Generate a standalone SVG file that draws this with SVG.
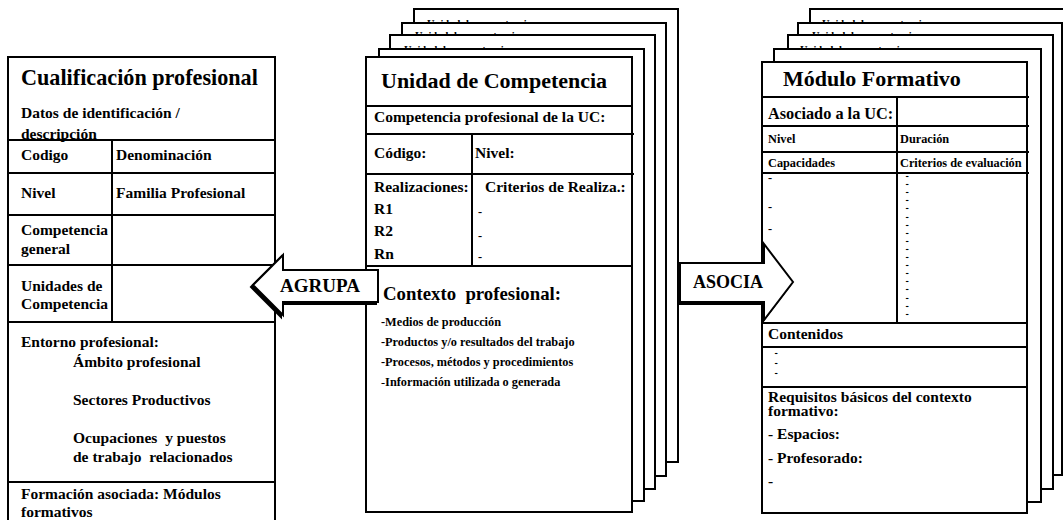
<svg xmlns="http://www.w3.org/2000/svg" width="1063" height="520" viewBox="0 0 1063 520" font-family="'Liberation Serif', 'Times New Roman', serif">
<style>
text{font-family:"Liberation Serif","Times New Roman",serif;font-weight:bold;fill:#000}
.page{fill:#fff;stroke:#000;stroke-width:2}
.ln{stroke:#000;stroke-width:2;fill:none}
.t22{font-size:22px}
.t155{font-size:15.5px}
.t12{font-size:12.3px}
.dash{font-size:7px;stroke:#000;stroke-width:0.6}
.frag{font-size:10.5px}
.arrow{fill:#fff;stroke:#000;stroke-width:2;stroke-linejoin:miter}
.shadow{fill:#000;stroke:#000;stroke-width:2}
</style>

<g id="cualificacion">
  <rect class="page" x="8" y="57" width="267" height="475"/>
  <text x="21" y="85" style="font-size:22.2px">Cualificación profesional</text>
  <text class="t155" x="21" y="118">Datos de identificación /</text>
  <text class="t155" x="21" y="139">descripción</text>
  <line class="ln" x1="8" y1="140" x2="275" y2="140"/>
  <line class="ln" x1="8" y1="173" x2="275" y2="173"/>
  <line class="ln" x1="8" y1="215" x2="275" y2="215"/>
  <line class="ln" x1="8" y1="265" x2="275" y2="265"/>
  <line class="ln" x1="8" y1="322" x2="275" y2="322"/>
  <line class="ln" x1="8" y1="482" x2="275" y2="482"/>
  <line class="ln" x1="112" y1="140" x2="112" y2="322"/>
  <text class="t155" x="21" y="160">Codigo</text>
  <text class="t155" x="116" y="160">Denominación</text>
  <text class="t155" x="21" y="198">Nivel</text>
  <text class="t155" x="116" y="198">Familia Profesional</text>
  <text class="t155" x="21" y="235">Competencia</text>
  <text class="t155" x="21" y="254">general</text>
  <text class="t155" x="21" y="291">Unidades de</text>
  <text class="t155" x="21" y="309">Competencia</text>
  <text class="t155" x="21" y="347">Entorno profesional:</text>
  <text class="t155" x="73" y="367">Ámbito profesional</text>
  <text class="t155" x="73" y="405">Sectores Productivos</text>
  <text class="t155" x="73" y="443" xml:space="preserve">Ocupaciones  y puestos</text>
  <text class="t155" x="73" y="462" xml:space="preserve">de trabajo  relacionados</text>
  <text class="t155" x="21" y="499">Formación asociada: Módulos</text>
  <text class="t155" x="21" y="517">formativos</text>
</g>

<g id="unidad-competencia">
  <rect class="page" x="414" y="9" width="264" height="453"/>
  <text class="frag" x="427" y="27">Unidad de competencia</text>
  <rect class="page" x="402" y="23" width="264" height="453"/>
  <text class="frag" x="415" y="39">Unidad de competencia</text>
  <rect class="page" x="390" y="35" width="265" height="454"/>
  <text class="frag" x="404" y="53">Unidad de competencia</text>
  <rect class="page" x="379" y="49" width="265" height="452"/>
  <rect class="page" x="366" y="57" width="266" height="455"/>
  <text class="t22" x="381" y="88">Unidad de Competencia</text>
  <line class="ln" x1="366" y1="106" x2="633" y2="106"/>
  <text class="t155" x="374" y="122">Competencia profesional de la UC:</text>
  <line class="ln" x1="366" y1="134" x2="634" y2="134"/>
  <line class="ln" x1="472" y1="134" x2="472" y2="266"/>
  <text class="t155" x="374" y="158">Código:</text>
  <text class="t155" x="475" y="158">Nivel:</text>
  <line class="ln" x1="366" y1="174" x2="634" y2="174"/>
  <text class="t155" x="374" y="192">Realizaciones:</text>
  <text class="t155" x="485" y="192">Criterios de Realiza.:</text>
  <text class="t155" x="374" y="214">R1</text>
  <text class="t155" x="374" y="236">R2</text>
  <text class="t155" x="374" y="259">Rn</text>
  <text class="t12"><tspan x="478" y="216">-</tspan><tspan x="478" y="240">-</tspan><tspan x="478" y="261">-</tspan></text>
  <line class="ln" x1="366" y1="266" x2="632" y2="266"/>
  <text x="383" y="300" style="font-size:18.8px" xml:space="preserve">Contexto  profesional:</text>
  <text class="t12" x="381" y="326">-Medios de producción</text>
  <text class="t12" x="381" y="346">-Productos y/o resultados del trabajo</text>
  <text class="t12" x="381" y="366">-Procesos, métodos y procedimientos</text>
  <text class="t12" x="381" y="386"><tspan font-weight="normal">-</tspan>Información utilizada o generada</text>
</g>

<g id="modulo-formativo">
  <rect class="page" x="810" y="9" width="270" height="453"/>
  <text class="frag" x="822" y="27">Unidad de competencia</text>
  <rect class="page" x="798" y="23" width="264" height="452"/>
  <text class="frag" x="812" y="39">Unidad de competencia</text>
  <rect class="page" x="788" y="35" width="265" height="454"/>
  <text class="frag" x="800" y="53">Unidad de competencia</text>
  <rect class="page" x="774" y="49" width="267" height="453"/>
  <rect class="page" x="762" y="62" width="265" height="451"/>
  <text class="t22" x="783" y="86">Módulo Formativo</text>
  <line class="ln" x1="762" y1="97" x2="1029" y2="97"/>
  <line class="ln" x1="897" y1="97" x2="897" y2="323"/>
  <text x="768" y="119" style="font-size:16.3px">Asociado a la UC:</text>
  <line class="ln" x1="762" y1="126" x2="1029" y2="126"/>
  <text class="t12" x="768" y="143">Nivel</text>
  <text class="t12" x="900" y="143">Duración</text>
  <line class="ln" x1="762" y1="152" x2="1029" y2="152"/>
  <text class="t12" x="768" y="167">Capacidades</text>
  <text class="t12" x="900" y="167">Criterios de evaluación</text>
  <line class="ln" x1="762" y1="173" x2="1029" y2="173"/>
  <text class="t12"><tspan x="768" y="182">-</tspan><tspan x="768" y="211">-</tspan><tspan x="768" y="233">-</tspan></text>
  <text class="dash"><tspan x="906" y="178">-</tspan><tspan x="906" y="186.1">-</tspan><tspan x="906" y="194.2">-</tspan><tspan x="906" y="202.3">-</tspan><tspan x="906" y="210.4">-</tspan><tspan x="906" y="218.5">-</tspan><tspan x="906" y="226.6">-</tspan><tspan x="906" y="234.7">-</tspan><tspan x="906" y="242.8">-</tspan><tspan x="906" y="250.9">-</tspan><tspan x="906" y="259">-</tspan><tspan x="906" y="267.1">-</tspan><tspan x="906" y="275.2">-</tspan><tspan x="906" y="283.3">-</tspan><tspan x="906" y="291.4">-</tspan><tspan x="906" y="299.5">-</tspan><tspan x="906" y="307.6">-</tspan><tspan x="906" y="315.7">-</tspan></text>
  <line class="ln" x1="762" y1="323" x2="1027" y2="323"/>
  <text class="t155" x="768" y="339">Contenidos</text>
  <line class="ln" x1="762" y1="347" x2="1027" y2="347"/>
  <text class="dash"><tspan x="775" y="355">-</tspan><tspan x="775" y="365">-</tspan><tspan x="775" y="375">-</tspan></text>
  <line class="ln" x1="762" y1="387" x2="1027" y2="387"/>
  <text class="t155" x="768" y="402">Requisitos básicos del contexto</text>
  <text class="t155" x="768" y="416">formativo:</text>
  <text class="t155" x="768" y="439">- Espacios:</text>
  <text class="t155" x="768" y="463">- Profesorado:</text>
  <text class="t155" x="768" y="486">-</text>
</g>

<g id="connectors">
  <g id="agrupa">
    <polygon class="shadow" points="251,287 281,257 281,272 376,272 376,304 281,304 281,317"/>
    <polygon class="arrow" points="253,285 283,255 283,270 378,270 378,302 283,302 283,315"/>
    <text x="280" y="292" style="font-size:19px">AGRUPA</text>
  </g>
  <g id="asocia">
    <polygon class="shadow" points="678,265 762,265 762,246 791,284 762,322 762,304 678,304"/>
    <polygon class="arrow" points="680,263 764,263 764,244 793,282 764,320 764,302 680,302"/>
    <text x="693" y="288" style="font-size:18px">ASOCIA</text>
  </g>
</g>
</svg>
